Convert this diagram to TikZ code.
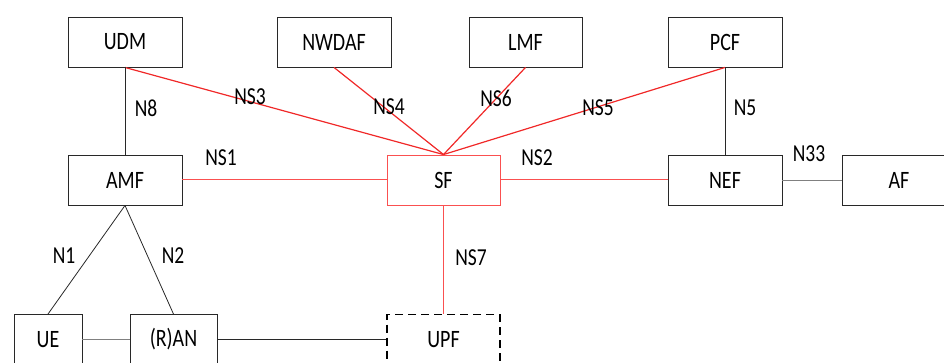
\documentclass[tikz,border=0pt]{standalone}
\usepackage{graphicx}
\usepackage{fontspec}
\setmainfont{Carlito}
\newcommand\tallt[1]{\scalebox{1}[1.25]{#1}}
\definecolor{sfred}{RGB}{240,40,40}
\definecolor{sflight}{RGB}{250,80,80}
\definecolor{boxline}{RGB}{40,40,40}
\tikzset{
  nf/.style={draw=boxline, line width=0.9pt, minimum width=114pt, minimum height=50pt,
             inner sep=0pt, font=\fontsize{20}{23}\selectfont},
  sfbox/.style={nf, draw=sflight},
  upfbox/.style={nf, draw=black, line width=1.5pt, dash pattern=on 8pt off 5pt},
  lab/.style={inner sep=0pt, font=\fontsize{19.5}{23}\selectfont},
  blk/.style={draw=boxline, line width=0.8pt},
  gry/.style={draw=gray, line width=0.9pt},
  rd/.style={draw=sfred, line width=1.2pt},
  rdl/.style={draw=sflight, line width=1pt},
}
\begin{document}
\begin{tikzpicture}[x=1pt,y=-1pt]
\useasboundingbox (0,0) rectangle (944,363);
\begin{scope}
\clip (0,0) rectangle (944,363);
% network functions
\node[nf] (udm)   at (125,42)   {\tallt{UDM}};
\node[nf] (nwdaf) at (334,42)   {\tallt{NWDAF}};
\node[nf, minimum width=113pt] (lmf) at (525.5,42) {\tallt{LMF}};
\node[nf] (pcf)   at (725,42)   {\tallt{PCF}};
\node[nf] (amf)   at (125,180)  {\tallt{AMF}};
\node[sfbox, minimum width=113pt] (sf) at (443.5,180) {\tallt{SF}};
\node[nf] (nef)   at (725,180)  {\tallt{NEF}};
\node[nf] (af)    at (899,180)  {\tallt{AF}};
\node[nf, minimum width=68pt] (ue)  at (48,339.5)    {\tallt{UE}};
\node[nf, minimum width=87pt] (ran) at (173.5,339.5) {\tallt{(R)AN}};
\node[upfbox, minimum width=113pt] (upf) at (443.5,339.5) {\tallt{UPF}};
% service interfaces towards SF
\draw[rd] (udm.south)   -- (sf.north);
\draw[rd] (nwdaf.south) -- (sf.north);
\draw[rd] (lmf.south)   -- (sf.north);
\draw[rd] (pcf.south)   -- (sf.north);
\draw[rdl] (amf.east) -- (sf.west);
\draw[rdl] (sf.east)  -- (nef.west);
\draw[rdl] (sf.south) -- (upf.north);
% reference points
\draw[blk] (udm.south) -- (amf.north);
\draw[blk] (pcf.south) -- (nef.north);
\draw[gry] (nef.east)  -- (af.west);
\draw[blk] (amf.south) -- (ue.north);
\draw[blk] (amf.south) -- (ran.north);
\draw[gry] (ue.east)   -- (ran.west);
\draw[blk] (ran.east)  -- (upf.west);
\end{scope}
% interface labels
\node[lab] (lns3) at (250,97)  {\tallt{NS3}};
\node[lab] (lns4) at (389,107) {\tallt{NS4}};
\node[lab] (lns6) at (496,98)  {\tallt{NS6}};
\node[lab] (lns5) at (598,108) {\tallt{NS5}};
\node[lab] (ln8)  at (146,108) {\tallt{N8}};
\node[lab] (ln5)  at (745,108) {\tallt{N5}};
\node[lab] (lns1) at (221,158) {\tallt{NS1}};
\node[lab] (lns2) at (537,158) {\tallt{NS2}};
\node[lab] (ln33) at (809,154) {\tallt{N33}};
\node[lab] (ln1)  at (64,256)  {\tallt{N1}};
\node[lab] (ln2)  at (173,256) {\tallt{N2}};
\node[lab] (lns7) at (471,258) {\tallt{NS7}};
\end{tikzpicture}
\end{document}
